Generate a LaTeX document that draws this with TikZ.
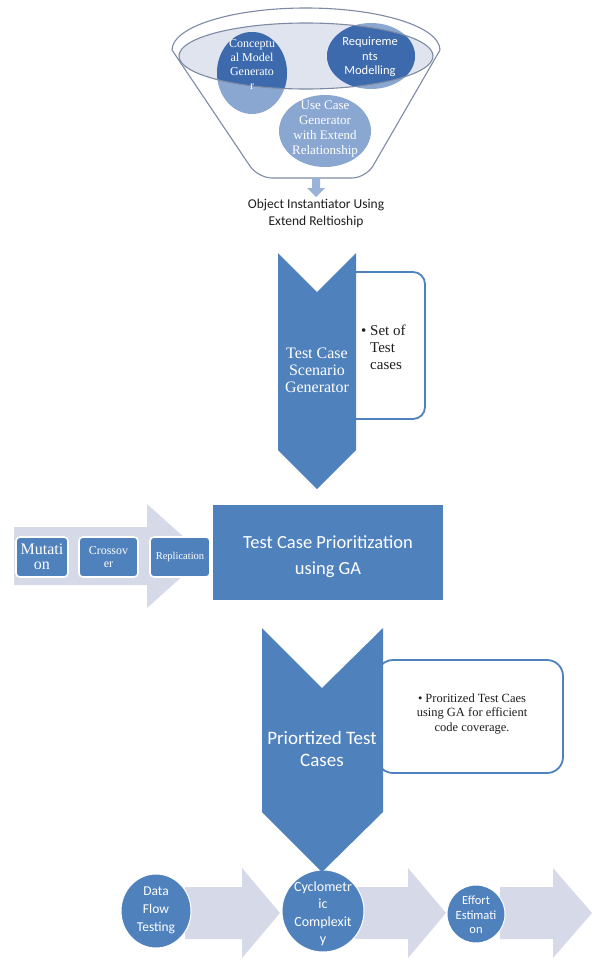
\documentclass[tikz,border=0pt]{standalone}
\usepackage{fontspec}
\setmainfont{Liberation Serif}
\newfontfamily\calibri{Carlito}
\usepackage{xcolor}
\usepackage{tikz}
\usetikzlibrary{positioning}
\definecolor{smartblue}{RGB}{79,129,189}
\definecolor{deepblue}{RGB}{60,106,172}
\definecolor{paleblue}{RGB}{138,167,210}
\definecolor{rimfill}{RGB}{223,228,238}
\definecolor{rimline}{RGB}{125,138,165}
\definecolor{arrowgray}{RGB}{214,218,232}
\definecolor{dropblue}{RGB}{152,178,216}
\definecolor{inktext}{RGB}{30,30,30}
\tikzset{
    chevron/.style = {fill=smartblue},
    notebox/.style = {draw=smartblue, line width=1.8pt, fill=white, rounded corners=12pt},
    gabox/.style = {fill=smartblue, draw=white, line width=1.6pt, rounded corners=4pt},
    flowarrow/.style = {fill=arrowgray},
    flowdot/.style = {fill=smartblue, draw=white, line width=1pt},
    rim/.style = {draw=rimline, line width=1.1pt},
    serifw/.style n args = {2}{align=center, text=white, inner sep=0pt, font=\rmfamily\fontsize{#1}{#2}\selectfont},
    sansw/.style n args = {2}{align=center, text=white, inner sep=0pt, font=\calibri\fontsize{#1}{#2}\selectfont},
    seriftext/.style n args = {2}{text=inktext, inner sep=0pt, font=\rmfamily\fontsize{#1}{#2}\selectfont},
    sanstext/.style n args = {2}{align=center, text=inktext, inner sep=0pt, font=\calibri\fontsize{#1}{#2}\selectfont},
}
\begin{document}
\begin{tikzpicture}[x=1pt, y=-1pt, font=\calibri]
\useasboundingbox (0,0) rectangle (594,964);
%
% funnel
\fill[rimfill] (306,56) ellipse [x radius=127pt, y radius=33pt];
\fill[paleblue] (252,73) ellipse [x radius=35pt, y radius=41pt];
\fill[paleblue] (371,56) ellipse [x radius=44pt, y radius=33pt];
\begin{scope}
  \clip (306,56) ellipse [x radius=127pt, y radius=33pt];
  \fill[deepblue] (252,73) ellipse [x radius=35pt, y radius=41pt];
  \fill[deepblue] (371,56) ellipse [x radius=44pt, y radius=33pt];
\end{scope}
\fill[paleblue] (325,131) ellipse [x radius=46pt, y radius=36pt];
\draw[rim] (306,56) ellipse [x radius=127pt, y radius=33pt];
\draw[rim] (172,50) arc [start angle=180, end angle=0, x radius=134pt, y radius=42pt];
\draw[rim, rounded corners=14pt] (172,50) -- (258,178) -- (366,178) -- (440,50);
\fill[dropblue] (312,178) -- (320,178) -- (320,188) -- (325,188) -- (316,197) -- (307,188) -- (312,188) -- cycle;
%
\node[serifw={12}{14}] (concept) at (252,65) {Conceptu\\al Model\\Generato\\r};
\node[sansw={12.5}{14.5}] (reqmod) at (370,57) {Requireme\\nts\\Modelling};
\node[serifw={13}{14.8}] (usecase) at (325,129) {Use Case\\Generator\\with Extend\\Relationship};
\node[sanstext={13.5}{17}] (objinst) at (316,213) {Object Instantiator Using\\Extend Reltioship};
%
% scenario generator
\draw[notebox] (345,272) rectangle (425,419);
\fill[chevron] (278,253) -- (317,292) -- (356,253) -- (356,450) -- (317,489) -- (278,450) -- cycle;
\node[serifw={16}{17}] (scengen) at (317,370) {Test Case\\Scenario\\Generator};
\node[seriftext={15}{17}, align=left, anchor=west] (setof) at (361,347) {\textbullet\ Set of\\\phantom{\textbullet\ }Test\\\phantom{\textbullet\ }cases};
%
% prioritization
\fill[flowarrow] (14,527) -- (147,527) -- (147,504) -- (205,556) -- (147,608) -- (147,585) -- (14,585) -- cycle;
\draw[gabox] (16,537) rectangle (68,577);
\draw[gabox] (79,537) rectangle (138,577);
\draw[gabox] (150,537) rectangle (210,577);
\node[serifw={16}{15.5}] (mutation) at (42,557) {Mutati\\on};
\node[serifw={12}{13}] (crossover) at (108.5,557) {Crossov\\er};
\node[serifw={10.5}{12}] (replication) at (180,557) {Replication};
\fill[smartblue] (213,505) rectangle (443,600);
\node[sansw={18.5}{26}] (prioga) at (328,557) {Test Case Prioritization\\using GA};
%
% bottom row
\fill[flowarrow] (185,887) -- (242,887) -- (242,868) -- (280,913) -- (242,958) -- (242,939) -- (185,939) -- cycle;
\fill[flowarrow] (355,887) -- (408,887) -- (408,868) -- (446,913) -- (408,958) -- (408,939) -- (355,939) -- cycle;
\fill[flowarrow] (500,887) -- (553,887) -- (553,868) -- (592,913) -- (553,958) -- (553,939) -- (500,939) -- cycle;
\draw[flowdot] (156,911) ellipse [x radius=35pt, y radius=37pt];
\draw[flowdot] (323,911) ellipse [x radius=41pt, y radius=41pt];
\draw[flowdot] (476,914) ellipse [x radius=29pt, y radius=29pt];
%
% prioritized cases
\draw[notebox, rounded corners=16pt] (377,660) rectangle (563,773);
\fill[chevron] (262,628) -- (322,688) -- (383,628) -- (383,812) -- (322,872) -- (262,812) -- cycle;
\node[sansw={19}{22}] (priocases) at (322,749) {Priortized Test\\Cases};
\node[seriftext={12.5}{14.5}, align=center] (covnote) at (472,714) {\textbullet\ Proritized Test Caes\\using GA for efficient\\code coverage.};
%
\node[sansw={13.5}{18}] (dataflow) at (156,910) {Data\\Flow\\Testing};
\node[sansw={14}{17.5}] (cyclo) at (323,914) {Cyclometr\\ic\\Complexit\\y};
\node[sansw={12.5}{14.5}] (effort) at (476,915) {Effort\\Estimati\\on};
\end{tikzpicture}
\end{document}
